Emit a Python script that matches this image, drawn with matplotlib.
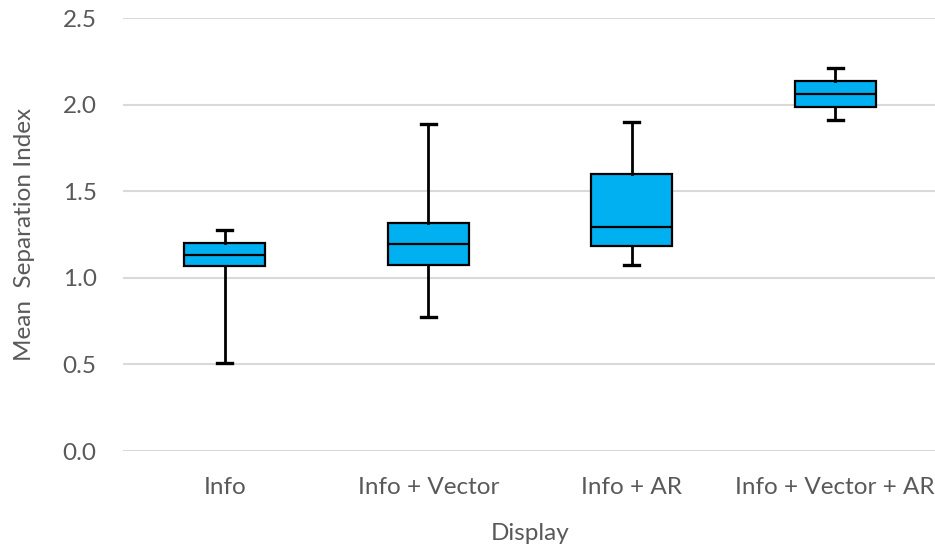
import matplotlib
matplotlib.use("Agg")
import matplotlib.pyplot as plt

categories = ["Info", "Info + Vector", "Info + AR", "Info + Vector + AR"]
whisker_low = [0.507, 0.774, 1.073, 1.914]
q1 = [1.069, 1.076, 1.186, 1.989]
median = [1.134, 1.198, 1.296, 2.062]
q3 = [1.203, 1.315, 1.600, 2.136]
whisker_high = [1.275, 1.887, 1.901, 2.213]
yticks = [0.0, 0.5, 1.0, 1.5, 2.0, 2.5]

plt.rcParams['font.family'] = ['Lato', 'DejaVu Sans']
W, H = 935, 548
fig = plt.figure(figsize=(W / 100, H / 100), dpi=100)
left, right, top, bottom = 123, 937, 18.3, 451
ax = fig.add_axes([left / W, (H - bottom) / H, (right - left) / W, (bottom - top) / H])

stats = []
for i, c in enumerate(categories):
    stats.append(dict(label=c, whislo=whisker_low[i], q1=q1[i], med=median[i],
                      q3=q3[i], whishi=whisker_high[i], fliers=[]))

ax.bxp(stats, positions=range(1, len(categories) + 1), widths=0.4,
       patch_artist=True, showfliers=False,
       boxprops=dict(facecolor="#00B0F0", edgecolor="black", linewidth=1.6),
       medianprops=dict(color="black", linewidth=1.6),
       whiskerprops=dict(color="black", linewidth=2.0),
       capprops=dict(color="black", linewidth=2.4),
       capwidths=0.075, zorder=3)

ax.set_xlim(0.5, 4.5)
ax.set_ylim(0, 2.5)
ax.set_yticks(yticks)
ax.set_yticklabels([f"{v:.1f}" for v in yticks])
ax.grid(axis="y", color="#D9D9D9", linewidth=1.5, zorder=0)
ax.set_axisbelow(True)
for s in ax.spines.values():
    s.set_visible(False)
ax.tick_params(axis="both", length=0, labelsize=17.5, labelcolor="#595959")
ax.tick_params(axis="y", pad=19)
ax.tick_params(axis="x", pad=19)
ax.set_xlabel("Display", fontsize=17.5, color="#595959", labelpad=18)
ax.set_ylabel("Mean  Separation Index", fontsize=17.5, color="#595959", labelpad=20)

fig.savefig("out.png", dpi=100)
